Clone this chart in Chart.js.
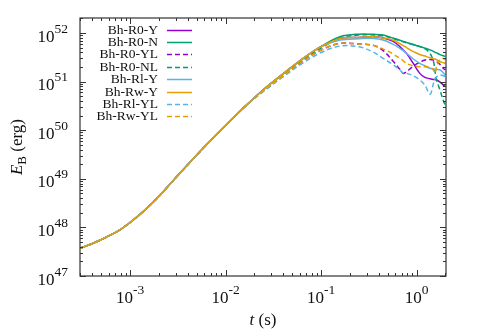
<!DOCTYPE html>
<html>
<head>
<meta charset="utf-8">
<script src="https://cdn.jsdelivr.net/npm/chart.js@4.4.1/dist/chart.umd.min.js"></script>
<style>
  body { margin: 0; background: #fff; }
  canvas { display: block; }
</style>
</head>
<body>
<canvas id="chart" width="480" height="336"></canvas>
<script>
// time (s)
var tSec = [3.0e-4, 4.0e-4, 5.0e-4, 6.3e-4, 8.0e-4, 1.0e-3, 1.41e-3, 2.0e-3, 3.16e-3,
    6.3e-3, 1.0e-2, 1.58e-2,
    2.5e-2, 4.0e-2, 6.3e-2, 0.1,
    0.158, 0.25, 0.355, 0.447, 0.562, 0.668, 0.724, 0.785, 0.923, 1.08,
    1.22, 1.38, 1.50, 1.56, 1.62, 1.76, 1.91, 2.0];

// E_B (erg), shared early growth up to 1.58e-2 s
var earlyE = [3.72e47, 4.62e47, 5.62e47, 7.0e47, 9.12e47, 1.26e48, 2.21e48, 4.32e48, 1.17e49,
    5.0e49, 1.26e50, 3.02e50];

// per model, from 2.5e-2 s on
var r0Y  = [6.9e50, 1.45e51, 2.88e51, 5.25e51,
    7.76e51, 8.13e51, 8.39e51, 7.94e51, 6.84e51, 5.25e51, 4.47e51, 3.81e51, 2.37e51, 1.48e51,
    1.22e51, 1.15e51, 1.11e51, 1.10e51, 1.08e51, 9.8e50, 8.5e50, 7.9e50];
var r0N  = [6.9e50, 1.45e51, 2.88e51, 5.3e51,
    8.4e51, 9.5e51, 9.4e51, 9.1e51, 7.9e51, 7.1e51, 6.7e51, 6.4e51, 5.8e51, 5.3e51,
    4.9e51, 4.5e51, 4.2e51, 4.0e51, 3.9e51, 3.6e51, 3.4e51, 3.3e51];
var r0YL = [6.5e50, 1.31e51, 2.55e51, 4.47e51,
    6.12e51, 5.93e51, 5.57e51, 4.33e51, 2.69e51, 1.79e51, 1.48e51, 1.60e51, 2.09e51, 2.49e51,
    2.78e51, 2.87e51, 2.78e51, 2.69e51, 2.57e51, 2.26e51, 1.87e51, 1.74e51];
var r0NL = [6.7e50, 1.38e51, 2.72e51, 4.9e51,
    7.94e51, 9.12e51, 9.12e51, 8.71e51, 7.76e51, 6.92e51, 6.61e51, 6.31e51, 5.75e51, 5.25e51,
    4.79e51, 3.80e51, 2.63e51, 1.58e51, 1.07e51, 6.6e50, 4.0e50, 3.2e50];
var rlY  = [6.9e50, 1.45e51, 2.88e51, 5.25e51,
    7.18e51, 7.64e51, 7.76e51, 7.18e51, 5.93e51, 4.84e51, 4.33e51, 3.80e51, 2.92e51, 2.38e51,
    2.12e51, 1.88e51, 1.82e51, 1.78e51, 1.78e51, 1.74e51, 1.51e51, 1.37e51];
var rwY  = [6.9e50, 1.45e51, 2.88e51, 5.25e51,
    7.76e51, 8.13e51, 8.39e51, 7.89e51, 7.18e51, 6.03e51, 5.50e51, 5.01e51, 4.13e51, 3.63e51,
    3.36e51, 3.09e51, 2.95e51, 2.92e51, 2.82e51, 2.57e51, 2.45e51, 2.37e51];
var rlYL = [6.3e50, 1.25e51, 2.34e51, 3.98e51,
    5.40e51, 5.22e51, 4.00e51, 3.01e51, 2.26e51, 1.74e51, 1.48e51, 1.48e51, 1.32e51, 1.08e51,
    8.5e50, 5.5e50, 9.1e50, 1.17e51, 1.26e51, 1.37e51, 1.32e51, 1.26e51];
var rwYL = [6.5e50, 1.31e51, 2.55e51, 4.47e51,
    6.12e51, 5.93e51, 5.57e51, 4.68e51, 3.75e51, 3.01e51, 2.69e51, 2.37e51, 2.12e51, 2.03e51,
    2.03e51, 1.96e51, 1.74e51, 1.48e51, 2.04e51, 2.87e51, 3.01e51, 2.78e51];

var labels = ['Bh-R0-Y', 'Bh-R0-N', 'Bh-R0-YL', 'Bh-R0-NL', 'Bh-Rl-Y', 'Bh-Rw-Y', 'Bh-Rl-YL', 'Bh-Rw-YL'];
var series = [r0Y, r0N, r0YL, r0NL, rlY, rwY, rlYL, rwYL];
var colors = ['#9400d3', '#009e73', '#9400d3', '#009e73', '#56b4e9', '#e69f00', '#56b4e9', '#e69f00'];
var dashed = [false, false, true, true, false, false, true, true];

var xTickExp = [-3, -2, -1, 0];
var yTickExp = [47, 48, 49, 50, 51, 52];

var datasets = series.map(function (s, i) {
    var vals = earlyE.concat(s);
    return {
        label: labels[i],
        data: tSec.map(function (t, j) { return { x: t, y: vals[j] }; }),
        borderColor: colors[i],
        borderWidth: 1.5,
        borderDash: dashed[i] ? [5, 3] : [],
        pointRadius: 0,
        fill: false,
        tension: 0.35,
        order: series.length - 1 - i
    };
});

var SERIF = '"Liberation Serif", "DejaVu Serif", serif';

function powLabel(ctx, exp, x, y, align) {
    // draws 10^exp, y = tick position
    ctx.font = '17px ' + SERIF;
    var wb = ctx.measureText('10').width;
    ctx.font = '13.5px ' + SERIF;
    var we = ctx.measureText(String(exp)).width;
    var left = align === 'right' ? x - wb - we : x - (wb + we) / 2;
    var base = align === 'right' ? y + 8.5 : y;
    ctx.textAlign = 'left';
    ctx.textBaseline = 'alphabetic';
    ctx.font = '17px ' + SERIF;
    ctx.fillText('10', left, base);
    ctx.font = '13.5px ' + SERIF;
    ctx.fillText(String(exp), left + wb, base - 9);
}

var framePlugin = {
    id: 'frame',
    afterDraw: function (chart) {
        var ctx = chart.ctx, a = chart.chartArea;
        var xs = chart.scales.x, ys = chart.scales.y;
        ctx.save();
        ctx.strokeStyle = '#333';
        ctx.lineWidth = 1.2;
        ctx.strokeRect(a.left, a.top, a.right - a.left, a.bottom - a.top);

        ctx.lineWidth = 1;
        ctx.beginPath();
        for (var d = -4; d <= 0; d++) {
            for (var m = 1; m <= 9; m++) {
                var v = m * Math.pow(10, d);
                if (v < xs.min || v > xs.max) continue;
                var px = Math.round(xs.getPixelForValue(v)) + 0.5;
                var len = m === 1 ? 6 : 3;
                ctx.moveTo(px, a.bottom); ctx.lineTo(px, a.bottom - len);
                ctx.moveTo(px, a.top); ctx.lineTo(px, a.top + len);
            }
        }
        for (var e = 46; e <= 52; e++) {
            for (var k = 1; k <= 9; k++) {
                var w = k * Math.pow(10, e);
                if (w < ys.min || w > ys.max) continue;
                var py = Math.round(ys.getPixelForValue(w)) + 0.5;
                var l2 = k === 1 ? 6 : 3;
                ctx.moveTo(a.left, py); ctx.lineTo(a.left + l2, py);
                ctx.moveTo(a.right, py); ctx.lineTo(a.right - l2, py);
            }
        }
        ctx.stroke();

        ctx.fillStyle = '#111';
        xTickExp.forEach(function (p) {
            powLabel(ctx, p, xs.getPixelForValue(Math.pow(10, p)), 303, 'center');
        });
        yTickExp.forEach(function (p) {
            powLabel(ctx, p, 68, ys.getPixelForValue(Math.pow(10, p)), 'right');
        });

        // x title: t (s)
        ctx.textBaseline = 'alphabetic';
        ctx.textAlign = 'left';
        ctx.font = 'italic 17px ' + SERIF;
        var wt = ctx.measureText('t').width;
        ctx.font = '17px ' + SERIF;
        var ws = ctx.measureText(' (s)').width;
        var cx = (a.left + a.right) / 2 - (wt + ws) / 2;
        ctx.font = 'italic 17px ' + SERIF;
        ctx.fillText('t', cx, 325);
        ctx.font = '17px ' + SERIF;
        ctx.fillText(' (s)', cx + wt, 325);

        // y title: E_B (erg)
        ctx.save();
        ctx.translate(22, (a.top + a.bottom) / 2);
        ctx.rotate(-Math.PI / 2);
        ctx.font = 'italic 17px ' + SERIF;
        var wE = ctx.measureText('E').width;
        ctx.font = '13px ' + SERIF;
        var wB = ctx.measureText('B').width;
        ctx.font = '17px ' + SERIF;
        var wR = ctx.measureText(' (erg)').width;
        var sx = -(wE + wB + wR) / 2;
        ctx.font = 'italic 17px ' + SERIF;
        ctx.fillText('E', sx, 0);
        ctx.font = '13px ' + SERIF;
        ctx.fillText('B', sx + wE, 4);
        ctx.font = '17px ' + SERIF;
        ctx.fillText(' (erg)', sx + wE + wB, 0);
        ctx.restore();

        // legend
        ctx.font = '13.5px ' + SERIF;
        ctx.textAlign = 'right';
        ctx.textBaseline = 'middle';
        chart.data.datasets.forEach(function (ds, i) {
            var ly = 29.5 + i * 12.4;
            ctx.fillStyle = '#111';
            ctx.fillText(ds.label, 158, ly + 0.5);
            ctx.strokeStyle = ds.borderColor;
            ctx.lineWidth = 1.5;
            ctx.setLineDash(ds.borderDash);
            ctx.beginPath();
            ctx.moveTo(167, Math.round(ly) + 0.5);
            ctx.lineTo(192, Math.round(ly) + 0.5);
            ctx.stroke();
            ctx.setLineDash([]);
        });
        ctx.restore();
    }
};

new Chart(document.getElementById('chart').getContext('2d'), {
    type: 'line',
    data: { datasets: datasets },
    options: {
        responsive: false,
        animation: false,
        layout: { padding: { left: 80, right: 34, top: 18, bottom: 60 } },
        plugins: { legend: { display: false }, tooltip: { enabled: false } },
        scales: {
            x: { type: 'logarithmic', min: 2.995e-4, max: 2.03, display: false },
            y: { type: 'logarithmic', min: 1e47, max: 2.04e52, display: false }
        }
    },
    plugins: [framePlugin]
});
</script>
</body>
</html>
